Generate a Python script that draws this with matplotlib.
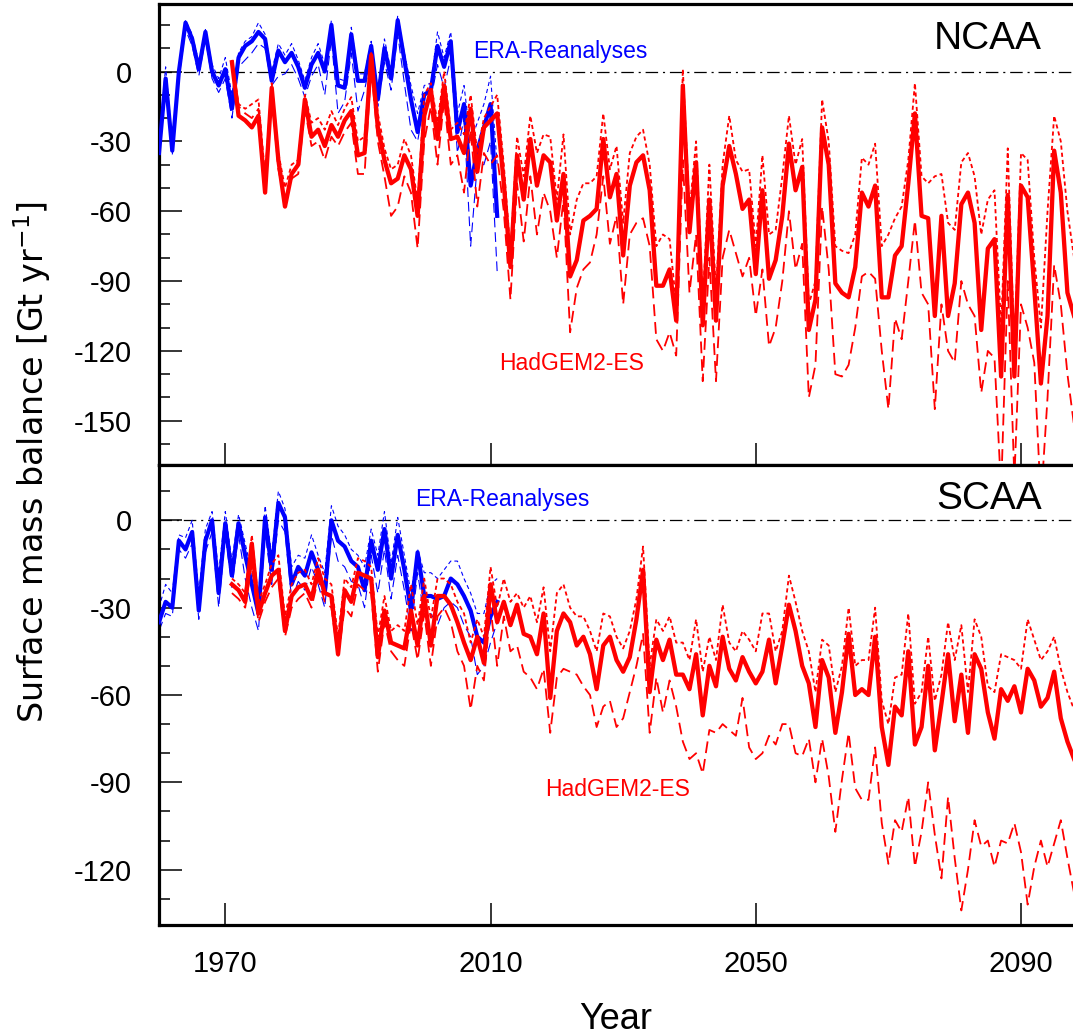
import numpy as np
import matplotlib
matplotlib.use('Agg')
from matplotlib import pyplot as plt
from matplotlib.ticker import MultipleLocator

plt.rcParams['font.family'] = ['Liberation Sans', 'DejaVu Sans']
plt.rcParams['lines.scale_dashes'] = False
plt.rcParams['axes.unicode_minus'] = False

# ERA reanalyses, 1960-2011
era_start = 1960
top_era = [-35, -3, -34, 0, 21, 14, 1, 17, 0, -6,
           1, -16, 6, 11, 13, 17, 14, -4, 9, 4,
           8, 2, -7, 3, 8, 0, 20, -6, -7, 16,
           -4, -4, 11, -12, 10, -3, 22, 5, -12, -26,
           -10, -8, 11, 2, 13, -26, -14, -49, -34, -24,
           -14, -62]
top_era_hi = [-30, 2, -30, 3, 22, 16, 4, 18, 3, -3,
              6, -10, 8, 13, 15, 21, 16, 0, 12, 7,
              12, 5, -4, 6, 12, 3, 22, -3, -4, 19,
              -1, -1, 13, -8, 14, 0, 24, 8, -6, -18,
              -6, -5, 17, 6, 17, -18, -6, -30, -22, -14,
              -2, -40]
top_era_lo = [-38, -6, -36, -3, 18, 11, -2, 14, -3, -9,
              -3, -20, 2, 5, 8, 12, 10, -6, -2, -1,
              3, -3, -11, -2, 3, -10, 14, -18, -13, 8,
              -17, -8, 6, -15, 4, -8, 16, -5, -25, -30,
              -14, -12, 3, -7, 6, -35, -20, -75, -40, -40,
              -30, -86]
bot_era = [-35, -28, -30, -7, -10, -4, -31, -7, 0, -25,
           -1, -19, -1, -12, -22, -32, 1, -17, 6, 1,
           -22, -16, -19, -11, -17, -25, 0, -7, -9, -14,
           -16, -24, -7, -17, -3, -20, -5, -17, -31, -11,
           -26, -26, -27, -26, -20, -22, -26, -31, -40, -42,
           -33, -28]
bot_era_hi = [-30, -22, -25, -5, -6, 0, -25, -3, 3, -18,
              3, -14, 2, -8, -18, -26, 5, -12, 10, 4,
              -16, -12, -13, -5, -12, -18, 5, -2, -5, -10,
              -12, -16, -3, -12, 3, -15, 1, -12, -25, -10,
              -18, -18, -20, -17, -14, -14, -20, -25, -32, -32,
              -22, -20]
bot_era_lo = [-38, -32, -33, -10, -13, -8, -34, -11, -4, -30,
              -5, -23, -5, -20, -30, -38, -4, -22, 0, -4,
              -27, -21, -24, -16, -22, -30, -5, -14, -16, -21,
              -22, -30, -12, -25, -10, -27, -12, -24, -38, -18,
              -33, -32, -36, -30, -28, -30, -36, -40, -53, -50,
              -42, -35]

# HadGEM2-ES, 1971-2098
had_start = 1971
top_had = [4, -19, -21, -24, -19, -52, -7, -38, -58, -44,
           -40, -12, -28, -25, -32, -23, -28, -21, -17, -36,
           -35, 7, -24, -38, -48, -46, -36, -42, -62, -19,
           -8, -29, -6, -29, -28, -35, -16, -43, -24, -21,
           -18, -48, -84, -36, -55, -29, -49, -36, -39, -64,
           -44, -88, -81, -64, -62, -59, -29, -54, -44, -79,
           -49, -39, -36, -51, -92, -92, -85, -107, -6, -69,
           -39, -109, -55, -107, -49, -32, -44, -59, -55, -87,
           -51, -89, -81, -62, -31, -51, -41, -111, -98, -24,
           -40, -91, -95, -97, -84, -52, -58, -49, -97, -97,
           -79, -75, -48, -18, -62, -63, -105, -62, -105, -91,
           -57, -52, -65, -111, -76, -72, -131, -53, -131, -49,
           -54, -93, -134, -105, -34, -52, -95, -105]
top_had_hi = [5, -14, -16, -14, -12, -45, -5, -35, -50, -40,
              -38, -10, -22, -20, -25, -17, -23, -16, -11, -30,
              -28, 8, -18, -33, -42, -40, -29, -36, -56, -10,
              -5, -22, 0, -25, -22, -27, -10, -35, -20, -15,
              -10, -40, -78, -28, -45, -19, -35, -27, -28, -55,
              -27, -70, -55, -48, -48, -45, -18, -42, -32, -65,
              -35, -28, -25, -40, -75, -70, -72, -100, 1, -60,
              -30, -100, -40, -95, -40, -19, -38, -43, -42, -75,
              -36, -70, -68, -45, -19, -40, -29, -100, -90, -12,
              -30, -75, -77, -78, -70, -37, -40, -31, -75, -70,
              -63, -58, -38, -5, -45, -48, -45, -44, -65, -68,
              -39, -35, -45, -70, -55, -51, -110, -33, -120, -35,
              -38, -80, -110, -60, -19, -30, -60, -80]
top_had_lo = [4, -15, -18, -20, -16, -50, -10, -42, -55, -46,
              -44, -16, -32, -30, -38, -28, -32, -26, -22, -44,
              -44, 2, -30, -45, -62, -58, -45, -52, -76, -30,
              -15, -40, -12, -40, -36, -52, -25, -58, -35, -40,
              -36, -60, -98, -48, -73, -45, -70, -52, -60, -80,
              -55, -112, -93, -85, -82, -70, -45, -74, -62, -100,
              -70, -65, -63, -75, -115, -120, -112, -122, -38, -95,
              -70, -133, -80, -133, -80, -68, -78, -88, -80, -105,
              -85, -118, -110, -90, -60, -85, -74, -140, -126, -58,
              -85, -130, -131, -126, -110, -88, -86, -89, -120, -145,
              -106, -115, -90, -64, -95, -100, -145, -100, -120, -125,
              -90, -100, -105, -138, -120, -123, -180, -90, -175, -100,
              -110, -125, -185, -140, -83, -100, -130, -152]
bot_had = [-22, -24, -28, -8, -32, -25, -19, -17, -38, -26,
           -23, -22, -27, -17, -25, -26, -46, -24, -28, -18,
           -19, -20, -47, -31, -42, -43, -44, -31, -43, -26,
           -43, -26, -26, -29, -35, -42, -48, -40, -49, -22,
           -35, -28, -36, -29, -39, -40, -46, -32, -61, -38,
           -32, -35, -43, -40, -46, -58, -43, -40, -48, -52,
           -47, -34, -17, -59, -41, -48, -41, -53, -53, -58,
           -46, -67, -50, -57, -40, -51, -55, -47, -52, -56,
           -52, -41, -56, -43, -29, -38, -50, -56, -71, -48,
           -54, -73, -59, -39, -60, -58, -60, -40, -71, -84,
           -64, -67, -45, -77, -71, -50, -79, -63, -46, -69,
           -53, -73, -46, -51, -66, -75, -58, -62, -57, -66,
           -51, -55, -64, -61, -52, -68, -76, -82]
bot_had_hi = [-20, -22, -25, -5, -28, -22, -15, -12, -33, -22,
              -18, -17, -22, -13, -20, -22, -40, -20, -23, -13,
              -14, -16, -40, -26, -38, -36, -38, -22, -36, -20,
              -34, -20, -20, -22, -28, -32, -42, -34, -40, -16,
              -30, -20, -28, -25, -30, -26, -35, -23, -45, -25,
              -22, -30, -33, -33, -38, -45, -32, -33, -40, -44,
              -38, -27, -9, -50, -34, -38, -33, -42, -42, -48,
              -34, -52, -40, -48, -29, -42, -45, -38, -41, -45,
              -32, -32, -45, -38, -19, -28, -38, -45, -59, -41,
              -43, -59, -50, -30, -50, -48, -48, -30, -62, -70,
              -54, -53, -32, -63, -59, -40, -62, -53, -35, -48,
              -36, -59, -34, -40, -57, -59, -46, -47, -48, -51,
              -34, -41, -48, -45, -40, -51, -59, -65]
bot_had_lo = [-25, -27, -30, -15, -35, -28, -23, -20, -40, -30,
              -27, -25, -30, -20, -28, -30, -47, -30, -33, -22,
              -24, -25, -52, -35, -45, -48, -50, -35, -48, -32,
              -50, -33, -30, -35, -45, -50, -65, -50, -55, -30,
              -50, -33, -45, -43, -52, -54, -58, -51, -73, -54,
              -51, -52, -53, -57, -60, -71, -64, -62, -71, -68,
              -59, -50, -39, -73, -54, -66, -55, -64, -76, -82,
              -80, -87, -72, -73, -70, -72, -74, -61, -78, -82,
              -80, -74, -77, -70, -70, -80, -81, -75, -90, -75,
              -88, -107, -89, -73, -92, -96, -96, -78, -104, -118,
              -103, -107, -95, -119, -107, -90, -108, -123, -95, -116,
              -134, -120, -103, -112, -110, -119, -110, -111, -104, -114,
              -132, -119, -110, -119, -111, -103, -116, -128]

era_years = np.arange(era_start, era_start + len(top_era))
had_years = np.arange(had_start, had_start + len(top_had))

W, H = 1073, 1036
fig = plt.figure(figsize=(W / 100, H / 100), dpi=100)
ax_top = fig.add_axes([159 / W, 1 - 465 / H, 1 - 159 / W, 461 / H])
ax_bot = fig.add_axes([159 / W, 1 - 925 / H, 1 - 159 / W, 460 / H])

panels = [
    (ax_top, 'NCAA', top_era, top_era_hi, top_era_lo, top_had, top_had_hi, top_had_lo,
     (-169, 29), [0, -30, -60, -90, -120, -150], (0.3435, 0.898), (0.372, 0.221), 0.924),
    (ax_bot, 'SCAA', bot_era, bot_era_hi, bot_era_lo, bot_had, bot_had_hi, bot_had_lo,
     (-139, 19), [0, -30, -60, -90, -120], (0.280, 0.926), (0.423, 0.295), 0.926),
]

for ax, name, e, e_hi, e_lo, h, h_hi, h_lo, ylim, yt, era_pos, had_pos, name_y in panels:
    ax.axhline(0, color='black', lw=0.9, dashes=(9, 3.5, 1.5, 3.5), zorder=1)
    ax.plot(era_years, e_hi, color='blue', lw=0.8, dashes=(3, 2.2), zorder=2)
    ax.plot(era_years, e_lo, color='blue', lw=0.8, dashes=(7, 3.5), zorder=2)
    ax.plot(era_years, e, color='blue', lw=3.0, zorder=3)
    ax.plot(had_years, h_hi, color='red', lw=1.3, dashes=(3, 2.2), zorder=4)
    ax.plot(had_years, h_lo, color='red', lw=1.3, dashes=(8.5, 4.3), zorder=4)
    ax.plot(had_years, h, color='red', lw=3.1, zorder=5)

    ax.set_xlim(1960, 2097.84)
    ax.set_ylim(*ylim)
    ax.set_yticks(yt)
    ax.yaxis.set_minor_locator(MultipleLocator(10))
    ax.set_xticks([1970, 2010, 2050, 2090])
    ax.tick_params(axis='y', which='major', direction='in', length=16.5, width=1.1,
                   labelsize=21, pad=19.5, right=False)
    ax.tick_params(axis='y', which='minor', direction='in', length=8, width=1.1, right=False)
    ax.tick_params(axis='x', which='major', direction='in', length=16, width=1.1,
                   labelsize=21, pad=18, top=False)
    for side in ['left', 'top', 'bottom']:
        ax.spines[side].set_linewidth(2.3)
    ax.spines['right'].set_visible(False)

    ax.text(0.9655, name_y, name, transform=ax.transAxes, fontsize=28,
            ha='right', va='center', color='black')
    ax.text(era_pos[0], era_pos[1], 'ERA-Reanalyses', transform=ax.transAxes,
            fontsize=16.5, color='blue', ha='left', va='center')
    ax.text(had_pos[0], had_pos[1], 'HadGEM2-ES', transform=ax.transAxes,
            fontsize=16.5, color='red', ha='left', va='center')

ax_top.tick_params(axis='x', labelbottom=False)
ax_bot.set_xlabel('Year', fontsize=26, labelpad=17)

fig.text(32 / W, 1 - 462 / H, 'Surface mass balance [Gt yr$^{\\mathrm{-1}}$]', rotation=90,
         fontsize=24, family='DejaVu Sans', ha='center', va='center')

plt.savefig('out.png', dpi=100)
